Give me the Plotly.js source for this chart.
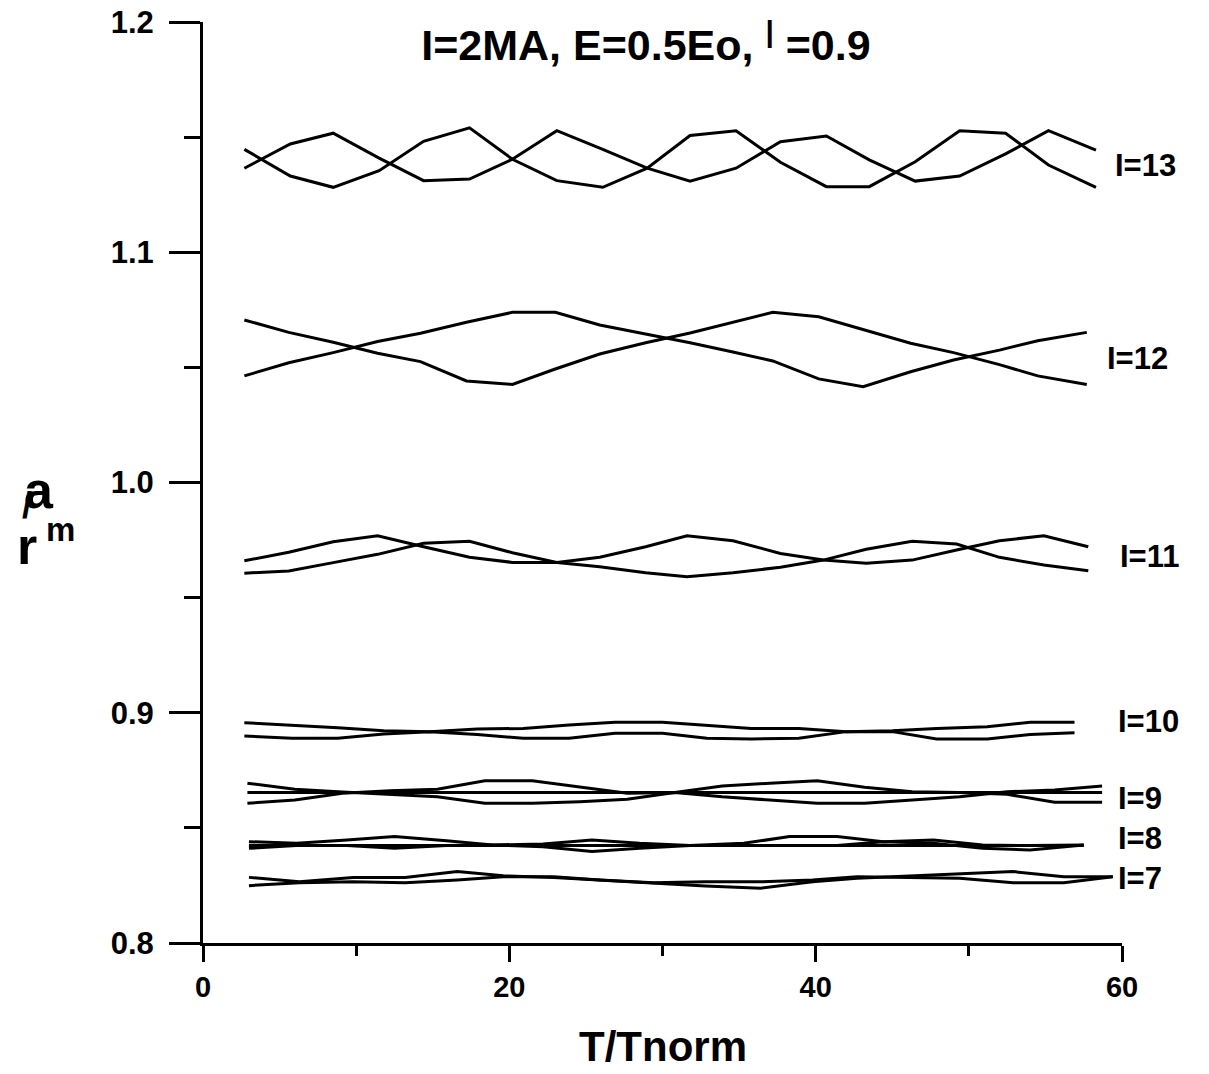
<!DOCTYPE html>
<html>
<head>
<meta charset="utf-8">
<script src="https://cdn.plot.ly/plotly-3.0.1.min.js"></script>
<style>html,body{margin:0;padding:0;background:#fff;}#chart{width:1209px;height:1074px;}</style>
</head>
<body>
<div id="chart"></div>
<script>
// ---- data ----
const x13 = [2.7,5.7,8.5,11.5,14.4,17.4,20.2,23.1,26.1,29.0,31.8,34.8,37.7,40.7,43.5,46.5,49.4,52.4,55.2,58.3];
const l13a = [1.1447,1.1331,1.1282,1.1354,1.1482,1.1540,1.1404,1.1311,1.1282,1.1365,1.1507,1.1528,1.1391,1.1285,1.1285,1.1393,1.1528,1.1517,1.1379,1.1282];
const l13b = [1.1365,1.1470,1.1517,1.1409,1.1311,1.1318,1.1404,1.1528,1.1447,1.1365,1.1309,1.1365,1.1480,1.1505,1.1401,1.1309,1.1331,1.1427,1.1528,1.1444];

const x12 = [2.7,5.6,8.5,11.4,14.2,17.2,20.2,23.0,25.9,28.9,31.8,34.6,37.2,40.2,43.1,46.2,49.0,52.0,54.5,57.7];
const l12a = [1.0706,1.0652,1.0609,1.0561,1.0525,1.0441,1.0426,1.0493,1.0558,1.0607,1.0649,1.0697,1.0739,1.0720,1.0665,1.0605,1.0564,1.0512,1.0463,1.0426];
const l12b = [1.0463,1.0520,1.0564,1.0612,1.0648,1.0696,1.0739,1.0739,1.0684,1.0645,1.0607,1.0567,1.0528,1.0450,1.0416,1.0481,1.0532,1.0575,1.0616,1.0652];

const x11 = [2.7,5.6,8.5,11.4,14.4,17.4,20.2,23.1,25.9,28.9,31.6,34.6,37.7,40.5,43.3,46.3,49.2,52.0,54.9,57.8];
const l11a = [0.9660,0.9697,0.9743,0.9769,0.9721,0.9675,0.9653,0.9653,0.9634,0.9608,0.9591,0.9608,0.9632,0.9663,0.9710,0.9745,0.9733,0.9675,0.9642,0.9617];
const l11b = [0.9606,0.9616,0.9652,0.9688,0.9736,0.9745,0.9695,0.9653,0.9675,0.9721,0.9769,0.9747,0.9692,0.9663,0.9649,0.9663,0.9707,0.9747,0.9769,0.9721];

const x10 = [2.7,5.8,8.8,11.8,14.8,17.9,20.9,23.9,26.9,30.0,32.9,35.8,38.9,42.0,45.0,47.9,51.2,54.0,56.9];
const l10a = [0.8957,0.8947,0.8935,0.8922,0.8918,0.8929,0.8932,0.8947,0.8959,0.8959,0.8947,0.8932,0.8932,0.8918,0.8922,0.8932,0.8939,0.8959,0.8959];
const l10b = [0.8899,0.8889,0.8889,0.8908,0.8918,0.8906,0.8889,0.8889,0.8911,0.8911,0.8889,0.8886,0.8889,0.8918,0.8918,0.8886,0.8886,0.8906,0.8913];

const x9 = [2.9,6.0,9.1,12.2,15.3,18.4,21.5,24.6,27.7,30.8,33.9,37.0,40.1,43.2,46.3,49.4,52.5,55.6,58.7];
const l9a = [0.8694,0.8668,0.8656,0.8646,0.8635,0.8607,0.8607,0.8614,0.8624,0.8654,0.8682,0.8694,0.8705,0.8676,0.8657,0.8654,0.8646,0.8611,0.8611];
const l9b = [0.8607,0.8621,0.8650,0.8661,0.8668,0.8705,0.8705,0.8679,0.8650,0.8654,0.8635,0.8621,0.8607,0.8607,0.8621,0.8635,0.8657,0.8664,0.8682];
const l9c = [0.8654,0.8654,0.8654,0.8654,0.8654,0.8654,0.8654,0.8654,0.8654,0.8654,0.8654,0.8654,0.8654,0.8654,0.8654,0.8654,0.8654,0.8654,0.8654];

const x8 = [3.0,6.1,9.4,12.5,15.9,18.9,22.2,25.4,28.5,31.8,35.3,38.3,41.4,44.4,47.7,50.9,54.0,57.5];
const l8a = [0.8440,0.8433,0.8447,0.8462,0.8444,0.8426,0.8430,0.8447,0.8433,0.8423,0.8433,0.8462,0.8462,0.8440,0.8447,0.8426,0.8423,0.8426];
const l8b = [0.8411,0.8423,0.8423,0.8411,0.8423,0.8426,0.8418,0.8397,0.8411,0.8423,0.8423,0.8423,0.8423,0.8440,0.8433,0.8411,0.8404,0.8426];
const l8c = [0.8423,0.8423,0.8423,0.8423,0.8423,0.8423,0.8423,0.8423,0.8423,0.8423,0.8423,0.8423,0.8423,0.8423,0.8423,0.8423,0.8423,0.8423];

const x7 = [3.0,6.3,9.8,13.2,16.6,19.6,22.9,25.9,29.4,32.8,36.4,39.8,42.7,46.4,49.4,52.9,56.2,59.4];
const l7a = [0.8285,0.8266,0.8285,0.8285,0.8310,0.8292,0.8285,0.8274,0.8259,0.8248,0.8238,0.8266,0.8281,0.8291,0.8300,0.8310,0.8288,0.8288];
const l7b = [0.8249,0.8262,0.8266,0.8262,0.8274,0.8288,0.8288,0.8274,0.8262,0.8266,0.8266,0.8274,0.8288,0.8285,0.8281,0.8262,0.8262,0.8288];

const seriesLabels = ["I=13","I=12","I=11","I=10","I=9","I=8","I=7"];
const labelY = [1.1376, 1.0538, 0.9679, 0.8963, 0.8626, 0.8453, 0.8279];
const labelX = [0.990, 0.981, 0.996, 0.993, 0.994, 0.994, 0.993];

const xTickVals = [0,20,40,60];
const yTickVals = [0.8,0.9,1.0,1.1,1.2];
const yTickText = ["0.8","0.9","1.0","1.1","1.2"];
const titleText = "I=2MA, E=0.5Eo, <sup>|</sup> =0.9";
const xTitle = "T/Tnorm";

// ---- traces ----
const pairs = [
  [x13,l13a],[x13,l13b],
  [x12,l12a],[x12,l12b],
  [x11,l11a],[x11,l11b],
  [x10,l10a],[x10,l10b],
  [x9,l9a],[x9,l9b],[x9,l9c],
  [x8,l8a],[x8,l8b],[x8,l8c],
  [x7,l7a],[x7,l7b]
];
const traces = pairs.map(p => ({
  x: p[0], y: p[1], type: 'scatter', mode: 'lines',
  line: {color: '#000', width: 3}, hoverinfo: 'skip', showlegend: false
}));

const FONT = 'Liberation Sans, Arial, sans-serif';
const annotations = seriesLabels.map((t, i) => ({
  text: t, xref: 'paper', yref: 'y', x: labelX[i], y: labelY[i],
  xanchor: 'left', yanchor: 'middle', showarrow: false,
  font: {family: FONT, size: 31, color: '#000', weight: 'bold'}
}));

// y-axis label (a / r_m)
annotations.push(
  {text: 'a', xref: 'paper', yref: 'paper', x: -0.178, y: 0.492, xanchor: 'center', yanchor: 'middle', showarrow: false,
   font: {family: FONT, size: 52, color: '#000', weight: 'bold'}},
  {text: '/', xref: 'paper', yref: 'paper', x: -0.191, y: 0.475, xanchor: 'center', yanchor: 'middle', showarrow: false,
   font: {family: FONT, size: 36, color: '#000', weight: 'bold'}},
  {text: 'r', xref: 'paper', yref: 'paper', x: -0.192, y: 0.431, xanchor: 'center', yanchor: 'middle', showarrow: false,
   font: {family: FONT, size: 52, color: '#000', weight: 'bold'}},
  {text: 'm', xref: 'paper', yref: 'paper', x: -0.155, y: 0.449, xanchor: 'center', yanchor: 'middle', showarrow: false,
   font: {family: FONT, size: 33, color: '#000', weight: 'bold'}},
  {text: xTitle, xref: 'paper', yref: 'paper', x: 0.5, y: -0.112, xanchor: 'center', yanchor: 'middle', showarrow: false,
   font: {family: FONT, size: 42, color: '#000', weight: 'bold'}}
);

const layout = {
  width: 1209, height: 1074,
  margin: {l: 203, r: 87, t: 22, b: 131},
  paper_bgcolor: '#fff', plot_bgcolor: '#fff',
  showlegend: false,
  title: {text: titleText, x: 0.482, xref: 'paper', xanchor: 'center', y: 0.958, yanchor: 'middle',
          font: {family: FONT, size: 43, color: '#000', weight: 'bold'}},
  xaxis: {
    range: [0, 60], tickvals: xTickVals, ticktext: xTickVals.map(String),
    showline: true, linecolor: '#000', linewidth: 3, zeroline: false, showgrid: false,
    ticks: 'outside', ticklen: 16, tickwidth: 3, tickcolor: '#000',
    ticklabelstandoff: 0,
    minor: {tickvals: [10,30,50], ticks: 'outside', ticklen: 10, tickwidth: 3, tickcolor: '#000', showgrid: false},
    tickfont: {family: FONT, size: 29, color: '#000', weight: 'bold'}
  },
  yaxis: {
    range: [0.8, 1.2], tickvals: yTickVals, ticktext: yTickText,
    showline: true, linecolor: '#000', linewidth: 3, zeroline: false, showgrid: false,
    ticks: 'outside', ticklen: 31, tickwidth: 3, tickcolor: '#000',
    ticklabelstandoff: 9,
    minor: {tickvals: [0.85,0.95,1.05,1.15], ticks: 'outside', ticklen: 16, tickwidth: 3, tickcolor: '#000', showgrid: false},
    tickfont: {family: FONT, size: 31, color: '#000', weight: 'bold'}
  },
  annotations: annotations
};

Plotly.newPlot('chart', traces, layout, {displayModeBar: false, staticPlot: true});
</script>
</body>
</html>
